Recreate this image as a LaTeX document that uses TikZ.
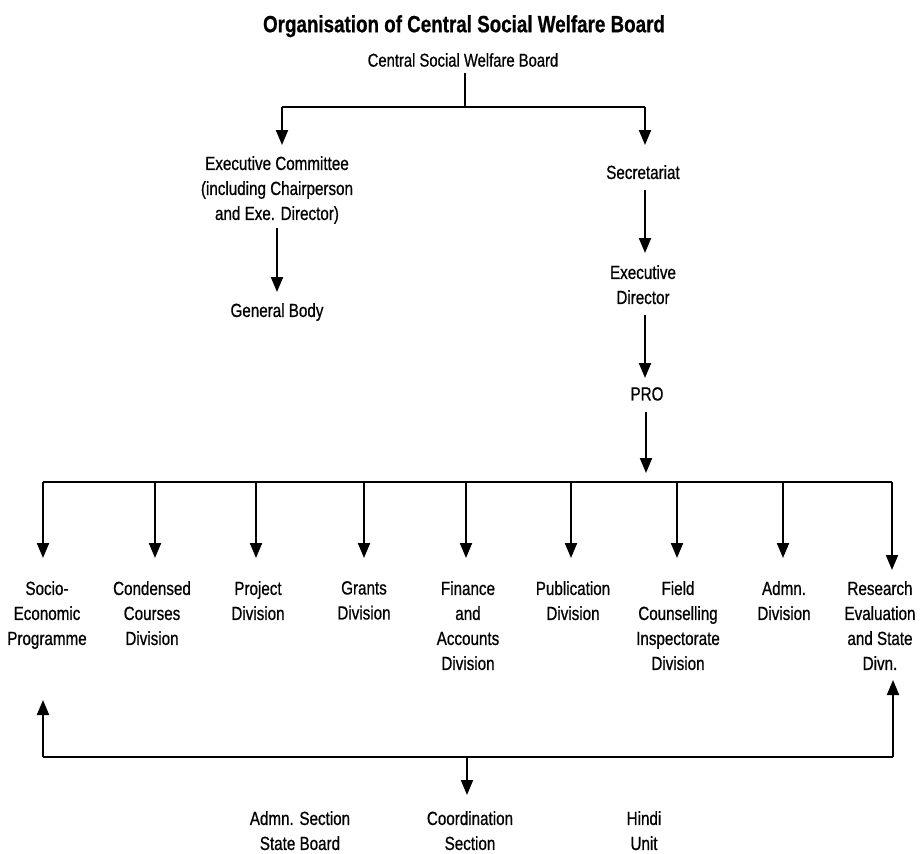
\documentclass[tikz,border=0pt]{standalone}
\usepackage{fontspec}
\setmainfont{Liberation Sans}[FakeStretch=0.8, FakeBold=0.7]
\usetikzlibrary{arrows.meta}
\tikzset{
  lbl/.style={align=center, inner sep=0pt, anchor=north, font=\fontsize{19}{25}\selectfont},
  conn/.style={line width=2pt},
  busline/.style={line width=2.4pt},
  arr/.style={line width=2pt, -{Triangle[width=12pt,length=15pt]}},
}
\begin{document}
\begin{tikzpicture}[x=1pt,y=-1pt]
\useasboundingbox (0,0) rectangle (921,854);
% titles
\node[inner sep=0pt, anchor=north, font=\fontsize{23.5}{28}\selectfont\bfseries] (title) at (464,15) {Organisation of Central Social Welfare Board};
\node[lbl, font=\fontsize{18.5}{24}\selectfont] (csw) at (463,53) {Central Social Welfare Board};
% upper nodes
\node[lbl] (ec) at (277,156) {Executive Committee\\(including Chairperson\\and Exe. Director)};
\node[lbl] (gb) at (277,303) {General Body};
\node[lbl] (sec) at (643,165) {Secretariat};
\node[lbl] (ed) at (643,265) {Executive\\Director};
\node[lbl] (pro) at (647,387) {PRO};
% divisions
\node[lbl] (d1) at (47,581) {Socio-\\Economic\\Programme};
\node[lbl] (d2) at (152,581) {Condensed\\Courses\\Division};
\node[lbl] (d3) at (258,581) {Project\\Division};
\node[lbl] (d4) at (364,581) {Grants\\Division};
\node[lbl] (d5) at (468,581) {Finance\\and\\Accounts\\Division};
\node[lbl] (d6) at (573,581) {Publication\\Division};
\node[lbl] (d7) at (678,581) {Field\\Counselling\\Inspectorate\\Division};
\node[lbl] (d8) at (784,581) {Admn.\\Division};
\node[lbl] (d9) at (880,581) {Research\\Evaluation\\and State\\Divn.};
% bottom nodes
\node[lbl] (s1) at (300,811) {Admn. Section\\State Board};
\node[lbl] (s2) at (470,811) {Coordination\\Section};
\node[lbl] (s3) at (644,811) {Hindi\\Unit};
% coordinates
\coordinate (cswout) at (465,73);
\coordinate (topbus) at (465,107);
\coordinate (ecin) at (282,145);
\coordinate (secin) at (645,145);
\coordinate (ecout) at (277,228);
\coordinate (gbin) at (277,292);
\coordinate (secout) at (645,190);
\coordinate (edin) at (645,253);
\coordinate (edout) at (645,315);
\coordinate (proin) at (645,378);
\coordinate (proout) at (646,412);
\coordinate (busin) at (646,473);
\coordinate (busL) at (43,482);
\coordinate (busR) at (892,482);
% top connectors
\draw[conn] (cswout) -- (topbus);
\draw[busline] (ecin |- topbus) -- (secin |- topbus);
\draw[arr] (ecin |- topbus) -- (ecin);
\draw[arr] (secin |- topbus) -- (secin);
\draw[arr] (ecout) -- (gbin);
\draw[arr] (secout) -- (edin);
\draw[arr] (edout) -- (proin);
\draw[arr] (proout) -- (busin);
% division bus
\draw[busline] (busL) -- (busR);
\foreach \n/\x in {d1/43, d2/155, d3/256, d4/364, d5/466, d6/571, d7/677, d8/783} {
  \draw[arr] (\x,482) -- (\x,558);
}
\draw[arr] (busR) -- (892,570);
% bottom bus
\coordinate (bbL) at (43,757);
\coordinate (bbR) at (893,757);
\coordinate (bbM) at (467,757);
\draw[busline] (bbL) -- (bbR);
\draw[arr] (bbL) -- (43,700);
\draw[arr] (bbR) -- (893,680);
\draw[arr] (bbM) -- (467,795);
\end{tikzpicture}
\end{document}
